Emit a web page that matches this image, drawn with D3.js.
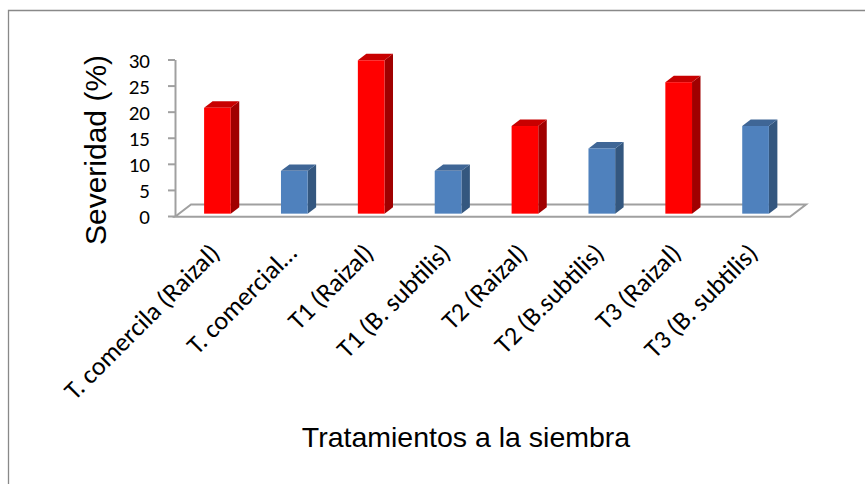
<!DOCTYPE html>
<html>
<head>
<meta charset="utf-8">
<script src="https://cdn.jsdelivr.net/npm/d3@7"></script>
<style>
  html, body { margin: 0; padding: 0; background: #fff; }
  svg { display: block; }
</style>
</head>
<body>
<svg id="chart" width="865" height="484"></svg>
<script>
// Severidad por tratamiento a la siembra
const categories = [
  "T. comercila (Raizal)",
  "T. comercial…",
  "T1 (Raizal)",
  "T1 (B. subtilis)",
  "T2 (Raizal)",
  "T2 (B.subtilis)",
  "T3 (Raizal)",
  "T3 (B. subtilis)"
];
const severity = [20.3, 8.2, 29.4, 8.2, 16.8, 12.5, 25.2, 16.8];
const groups = ["raizal", "subtilis", "raizal", "subtilis", "raizal", "subtilis", "raizal", "subtilis"];
const yTicks = [0, 5, 10, 15, 20, 25, 30];

const yTitle = "Severidad (%)";
const xTitle = "Tratamientos a la siembra";

const palette = {
  raizal:   { front: "#ff0000", top: "#c80000", side: "#a00000" },
  subtilis: { front: "#4f81bd", top: "#3f6696", side: "#34577f" }
};

const svg = d3.select("#chart");

// outer chart frame (left and top edges)
svg.append("path")
  .attr("d", "M8.5,490 L8.5,10.5 L870,10.5")
  .attr("fill", "none")
  .attr("stroke", "#898989")
  .attr("stroke-width", 1.3);

// floor geometry (oblique projection)
const floorLeft = 175, floorRight = 790, floorFront = 216.7;
const depth = { dx: 16, dy: -12.2 };
const barDepthStart = 0.25, barDepthSpan = 0.53;

const x = d3.scaleBand(categories, [floorLeft, floorRight])
  .paddingInner(0.653)
  .paddingOuter(0.3265);

// value axis drawn on the front-left edge
const y = d3.scaleLinear([0, 30], [216, 59.5]);

// bars sit slightly back from the front edge
const baseShiftX = depth.dx * barDepthStart;
const baseShiftY = depth.dy * barDepthStart;
const yBar = v => y(v) + baseShiftY + (floorFront - 216);

// floor
svg.append("path")
  .attr("d", d3.line()([
    [floorLeft, floorFront],
    [floorLeft + depth.dx, floorFront + depth.dy],
    [floorRight + depth.dx, floorFront + depth.dy],
    [floorRight, floorFront]
  ]) + "Z")
  .attr("fill", "#fff")
  .attr("stroke", "#a0a0a0")
  .attr("stroke-width", 2)
  .attr("stroke-linejoin", "miter");

// value axis
const yAxis = d3.axisLeft(y).tickValues(yTicks).tickSize(7).tickPadding(18).tickSizeOuter(0);
const axisG = svg.append("g")
  .attr("transform", `translate(${floorLeft},0)`)
  .call(yAxis);
axisG.select(".domain").attr("stroke", "#a0a0a0").attr("stroke-width", 2);
axisG.selectAll(".tick line").attr("stroke", "#a0a0a0").attr("stroke-width", 2);
axisG.selectAll(".tick text")
  .attr("fill", "#000")
  .attr("font-family", "Carlito, Calibri, Lato, sans-serif")
  .attr("font-size", 21)
  .attr("dy", "0.38em");

// 3D columns
const bw = x.bandwidth();
const sdx = depth.dx * barDepthSpan, sdy = depth.dy * barDepthSpan;
const bars = svg.append("g").selectAll("g")
  .data(categories.map((c, i) => ({ c, v: severity[i], g: groups[i] })))
  .join("g");

bars.each(function (d) {
  const g = d3.select(this);
  const x0 = x(d.c) + baseShiftX;
  const x1 = x0 + bw;
  const yb = yBar(0);
  const yt = yBar(d.v);
  const col = palette[d.g];
  g.append("path")
    .attr("d", d3.line()([[x1, yt], [x1 + sdx, yt + sdy], [x1 + sdx, yb + sdy], [x1, yb]]) + "Z")
    .attr("fill", col.side);
  g.append("path")
    .attr("d", d3.line()([[x0, yt], [x0 + sdx, yt + sdy], [x1 + sdx, yt + sdy], [x1, yt]]) + "Z")
    .attr("fill", col.top);
  g.append("rect")
    .attr("x", x0).attr("y", yt)
    .attr("width", bw).attr("height", yb - yt)
    .attr("fill", col.front);
});

// category labels, rotated
svg.append("g").selectAll("text")
  .data(categories)
  .join("text")
  .attr("transform", d => `translate(${x(d) + bw / 2 - 6},${241}) rotate(-45)`)
  .attr("text-anchor", "end")
  .attr("dy", "0.75em")
  .attr("font-family", "Carlito, Calibri, Lato, sans-serif")
  .attr("font-size", 26)
  .attr("fill", "#000")
  .text(d => d);

// axis titles
svg.append("text")
  .attr("transform", "translate(106,150) rotate(-90)")
  .attr("text-anchor", "middle")
  .attr("font-family", "Liberation Sans, Arial, sans-serif")
  .attr("font-size", 30)
  .attr("fill", "#000")
  .text(yTitle);

svg.append("text")
  .attr("x", 466).attr("y", 447)
  .attr("text-anchor", "middle")
  .attr("font-family", "Liberation Sans, Arial, sans-serif")
  .attr("font-size", 28.5)
  .attr("fill", "#000")
  .text(xTitle);
</script>
</body>
</html>
